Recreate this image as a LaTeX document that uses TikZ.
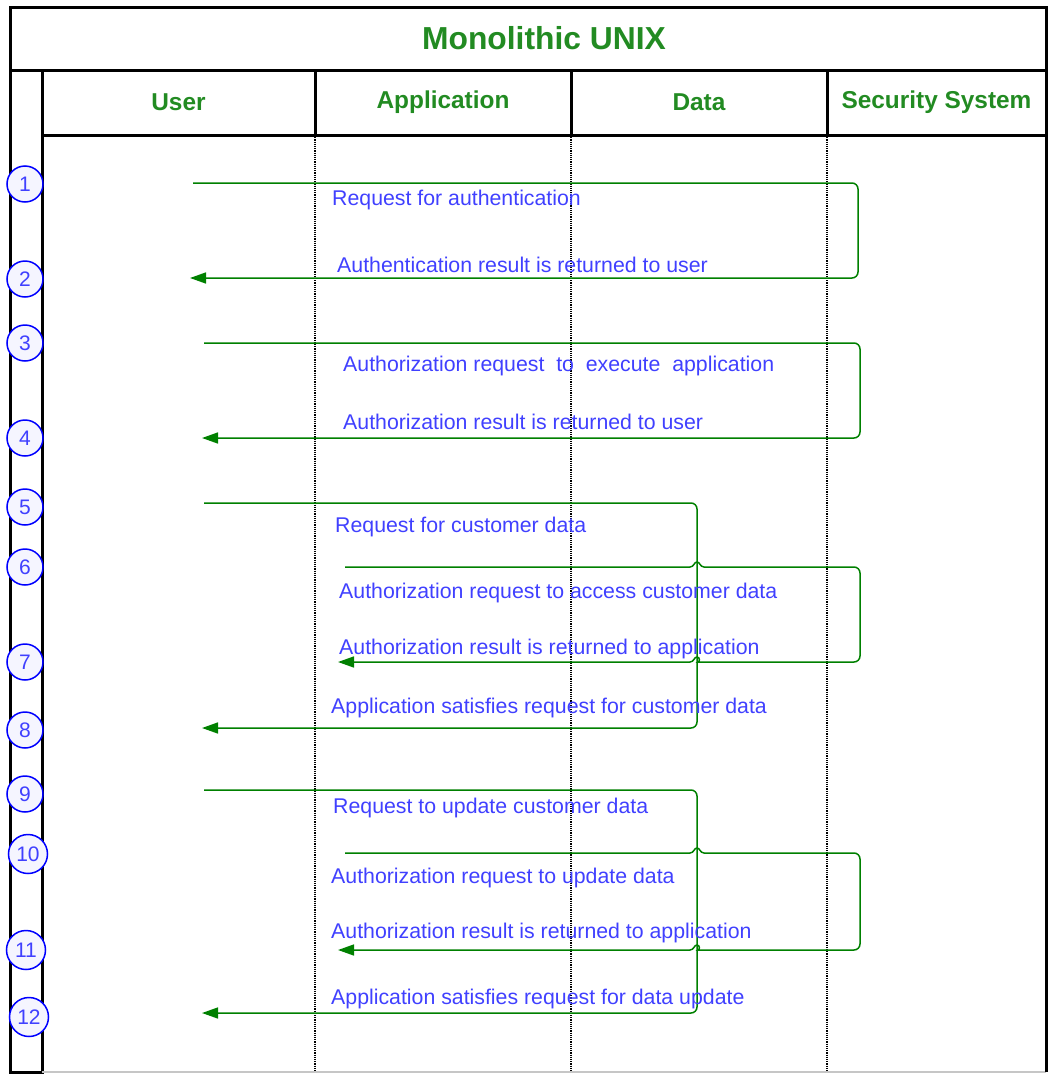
\documentclass[tikz,border=0pt]{standalone}
\usepackage{fontspec}
\setmainfont{Liberation Sans}
\usepackage{tikz}
\usetikzlibrary{arrows.meta, positioning, calc}
\usepackage{xcolor}
\definecolor{lanegreen}{RGB}{34,139,34}
\definecolor{flowgreen}{RGB}{0,128,0}
\definecolor{msgblue}{RGB}{64,64,255}
\tikzset{%
	every lane/.style={
		draw,
		line width=3pt,
		outer sep=0pt,
		minimum height=65pt,
		text=lanegreen,
		font=\fontsize{24.4}{28}\selectfont\bfseries
	},
	stepnum/.style={
		circle,
		draw=blue,
		fill=blue!4,
		line width=1.5pt,
		minimum size=36pt,
		inner sep=0pt,
		text=msgblue,
		font=\fontsize{21}{24}\selectfont
	},
	hopR/.style={insert path={.. controls +(4,0) and +(-3,0) .. ++(7,-5) .. controls +(3,0) and +(-4,0) .. ++(7,5)}},
	hopL/.style={insert path={.. controls +(-4,0) and +(3,0) .. ++(-7,-5) .. controls +(-3,0) and +(4,0) .. ++(-7,5)}},
}
\begin{document}
\begin{tikzpicture}[
			x=1pt, y=-1pt,
			node distance=0pt,
			frame/.style={line width=3pt},
			lane/.style={densely dotted, line width=1.2pt},
			flow/.style={flowgreen, line width=1.5pt, -{Triangle[length=16pt,width=11pt]}},
			msg/.style={anchor=west, inner sep=0pt, text height=17pt, text depth=2pt, text=msgblue, font=\fontsize{21.3}{25}\selectfont}
			]
			\useasboundingbox (0,0) rectangle (1049,1074);
			
			% Frame and swimlanes
			\draw[frame] (10,7) rectangle (1046,70);
			\node[text=lanegreen, font=\fontsize{31.8}{36}\selectfont\bfseries] (title) at (544,38) {Monolithic UNIX};
			\node[every lane, minimum width=273pt, anchor=north west] (user) at (42,70) {User};
			\node[every lane, minimum width=256pt, right=of user] (app) {Application};
			\node[every lane, minimum width=256pt, right=of app] (data) {Data};
			\node[every lane, minimum width=219pt, right=of data] (sec) {Security System};
			\draw[frame] (10,70) rectangle (42,1072);
			\coordinate (bottom) at (42,1072);
			\draw[gray!45, line width=2pt] (bottom) -- (bottom -| sec.east);
			\draw[frame] (sec.south east) -- (bottom -| sec.east);
			\foreach \l in {app, data, sec}
				\draw[lane] (\l.south west) -- (bottom -| \l.west);
			
			% Step numbers
			\foreach \n/\y in {1/184, 2/279, 3/343, 4/438, 5/507, 6/567, 7/662, 8/730, 9/794}
				\node[stepnum] (n\n) at (25,\y) {\n};
			\node[stepnum, minimum size=39pt] (n10) at (28,854) {10};
			\node[stepnum, minimum size=39pt] (n11) at (26,950) {11};
			\node[stepnum, minimum size=39pt] (n12) at (29,1017) {12};
			
			% Message end points
			\coordinate (s1) at (193,183);  \coordinate (t1) at (858,230);  \coordinate (e1) at (190,278);
			\coordinate (s3) at (204,343);  \coordinate (t3) at (860,390);  \coordinate (e3) at (202,438);
			\coordinate (s5) at (204,503);  \coordinate (t5) at (697,615);  \coordinate (e5) at (202,728);
			\coordinate (s6) at (345,567);  \coordinate (t6) at (860,614);  \coordinate (e6) at (338,662);
			\coordinate (s9) at (204,790);  \coordinate (t9) at (697,900);  \coordinate (e9) at (202,1013);
			\coordinate (s10) at (345,853); \coordinate (t10) at (860,900); \coordinate (e10) at (338,950);
			
			% Message flows
			\draw[flow, rounded corners=6pt] (s1) -| (t1) |- (e1);
			\draw[flow, rounded corners=6pt] (s3) -| (t3) |- (e3);
			\draw[flow, rounded corners=6pt] (s5) -| (t5) |- (e5);
			\draw[flow, rounded corners=6pt] (s9) -| (t9) |- (e9);
			\draw[flow] (s6) -- ($(s6 -| t5)+(-7,0)$) [hopR] [rounded corners=6pt] -| (t6) |- ($(e6 -| t5)+(7,0)$) [sharp corners] [hopL] -- (e6);
			\draw[flow] (s10) -- ($(s10 -| t9)+(-7,0)$) [hopR] [rounded corners=6pt] -| (t10) |- ($(e10 -| t9)+(7,0)$) [sharp corners] [hopL] -- (e10);
			
			% Message labels
			\node[msg] (m1) at (332,198) {Request for authentication};
			\node[msg] (m2) at (337,265) {Authentication result is returned to user};
			\node[msg] (m3) at (343,364) {Authorization request\ \ to\ \ execute\ \ application};
			\node[msg] (m4) at (343,422) {Authorization result is returned to user};
			\node[msg] (m5) at (335,525) {Request for customer data};
			\node[msg] (m6) at (339,591) {Authorization request to access customer data};
			\node[msg] (m7) at (339,647) {Authorization result is returned to application};
			\node[msg] (m8) at (331,706) {Application satisfies request for customer data};
			\node[msg] (m9) at (333,806) {Request to update customer data};
			\node[msg] (m10) at (331,876) {Authorization request to update data};
			\node[msg] (m11) at (331,931) {Authorization result is returned to application};
			\node[msg] (m12) at (331,997) {Application satisfies request for data update};
			
		\end{tikzpicture}
\end{document}
